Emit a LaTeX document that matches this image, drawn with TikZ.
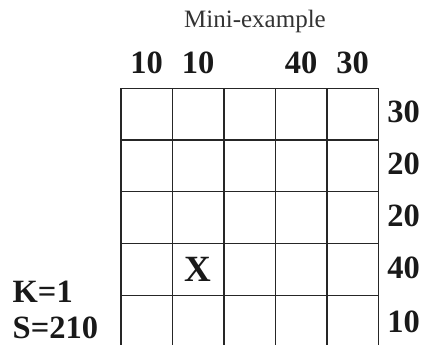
\documentclass[tikz,border=0pt]{standalone}
\usepackage{fontspec}
\setmainfont{Liberation Serif}
\begin{document}
\begin{tikzpicture}[x=1pt,y=1pt,
  gridline/.style={line width=1.1pt, draw=black!85},
  title/.style={font=\fontsize{25}{25}\selectfont, text=black!80, anchor=base, inner sep=0pt},
  numlabel/.style={font=\bfseries\fontsize{32.5}{32.5}\selectfont, text=black!90, anchor=base, inner sep=0pt},
  leftlabel/.style={font=\bfseries\fontsize{32.5}{32.5}\selectfont, text=black!90, anchor=base west, inner sep=0pt},
  marklabel/.style={font=\bfseries\fontsize{37}{37}\selectfont, text=black!90, anchor=base, inner sep=0pt}]
\useasboundingbox (0,0) rectangle (421,345);
\clip (0,0) rectangle (421,345);
% grid
\foreach \i in {0,...,5} {
  \draw[gridline] (121+51.5*\i,256.7) -- (121+51.5*\i,-5);
  \draw[gridline] (121,256.7-51.7*\i) -- (378.5,256.7-51.7*\i);
}
% title
\node[title] (title) at (255,317.3) {Mini-example};
% column labels
\node[numlabel] (c1) at (146.7,271.7) {10};
\node[numlabel] (c2) at (198.2,271.7) {10};
\node[numlabel] (c4) at (301.2,271.7) {40};
\node[numlabel] (c5) at (352.7,271.7) {30};
% row labels
\node[numlabel] (r1) at (403.5,222.3) {30};
\node[numlabel] (r2) at (403.5,170.6) {20};
\node[numlabel] (r3) at (403.5,118.9) {20};
\node[numlabel] (r4) at (403.5,66.9) {40};
\node[numlabel] (r5) at (403.5,12.0) {10};
% mark
\node[marklabel] (x) at (197.5,63.5) {X};
% left labels
\node[leftlabel] (k) at (12.5,42.5) {K=1};
\node[leftlabel] (s) at (12.5,6) {S=210};
\end{tikzpicture}
\end{document}
